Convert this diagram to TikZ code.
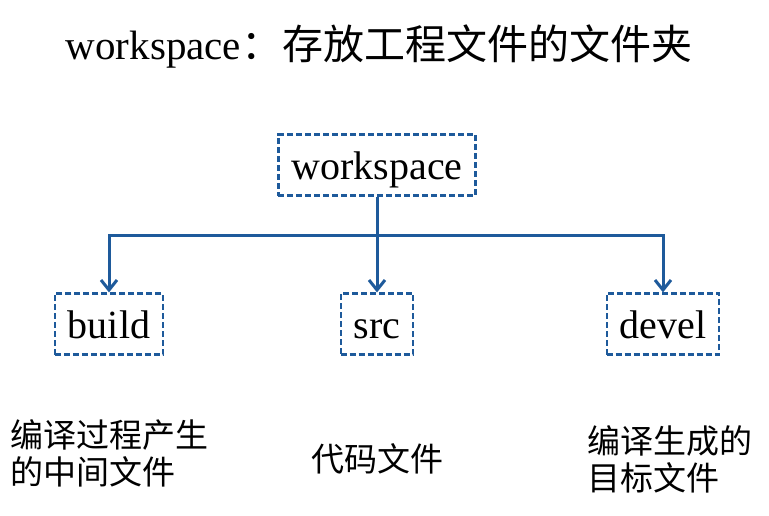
\documentclass[tikz,border=0pt]{standalone}
\usepackage{fontspec}
\setmainfont{Liberation Serif}
\newfontfamily\cjk{Noto Sans CJK SC}
\usetikzlibrary{
    arrows.meta,
    positioning
}
\definecolor{folderblue}{RGB}{30,90,155}

\begin{document}
\begin{tikzpicture}[
    x=1pt, y=-1pt,
    % dashed folder boxes
    folder/.style={
        draw=folderblue,
        line width=2.2pt,
        dash pattern=on 6pt off 3pt,
        font=\fontsize{40}{44}\selectfont,
        text height=33pt,
        text depth=4pt,
        inner xsep=13pt,
        inner ysep=12pt
    },
    caption/.style={
        font=\fontsize{41}{48}\selectfont
    },
    note/.style={
        font=\cjk\fontsize{33}{37}\selectfont,
        align=left,
        inner sep=0pt
    },
    trunk/.style={
        line width=3pt,
        folderblue
    },
    branch/.style={
        -{Straight Barb[length=10pt,width=16pt,line width=3pt]},
        line width=3pt,
        folderblue
    }
]
    \useasboundingbox (0,0) rectangle (769,515);

    % Title
    \node[caption] (title) at (379,46) {workspace{\cjk ：存放工程文件的文件夹}};

    % Folder tree
    \node[folder] (workspace) at (377,165) {workspace};
    \node[folder] (build) at (109,324) {build};
    \node[folder] (src) at (377,324) {src};
    \node[folder] (devel) at (663,324) {devel};
    \coordinate (hub) at (377,235);

    % What each folder holds
    \node[note, anchor=west] (build-note) at (10,453) {编译过程产生\\的中间文件};
    \node[note] (src-note) at (377,459) {代码文件};
    \node[note, anchor=west] (devel-note) at (587,459) {编译生成的\\目标文件};

    % Connectors
    \draw[trunk] (workspace) -- (hub);
    \draw[branch] (hub) -| (build);
    \draw[branch] (hub) -- (src);
    \draw[branch] (hub) -| (devel);
\end{tikzpicture}
\end{document}
